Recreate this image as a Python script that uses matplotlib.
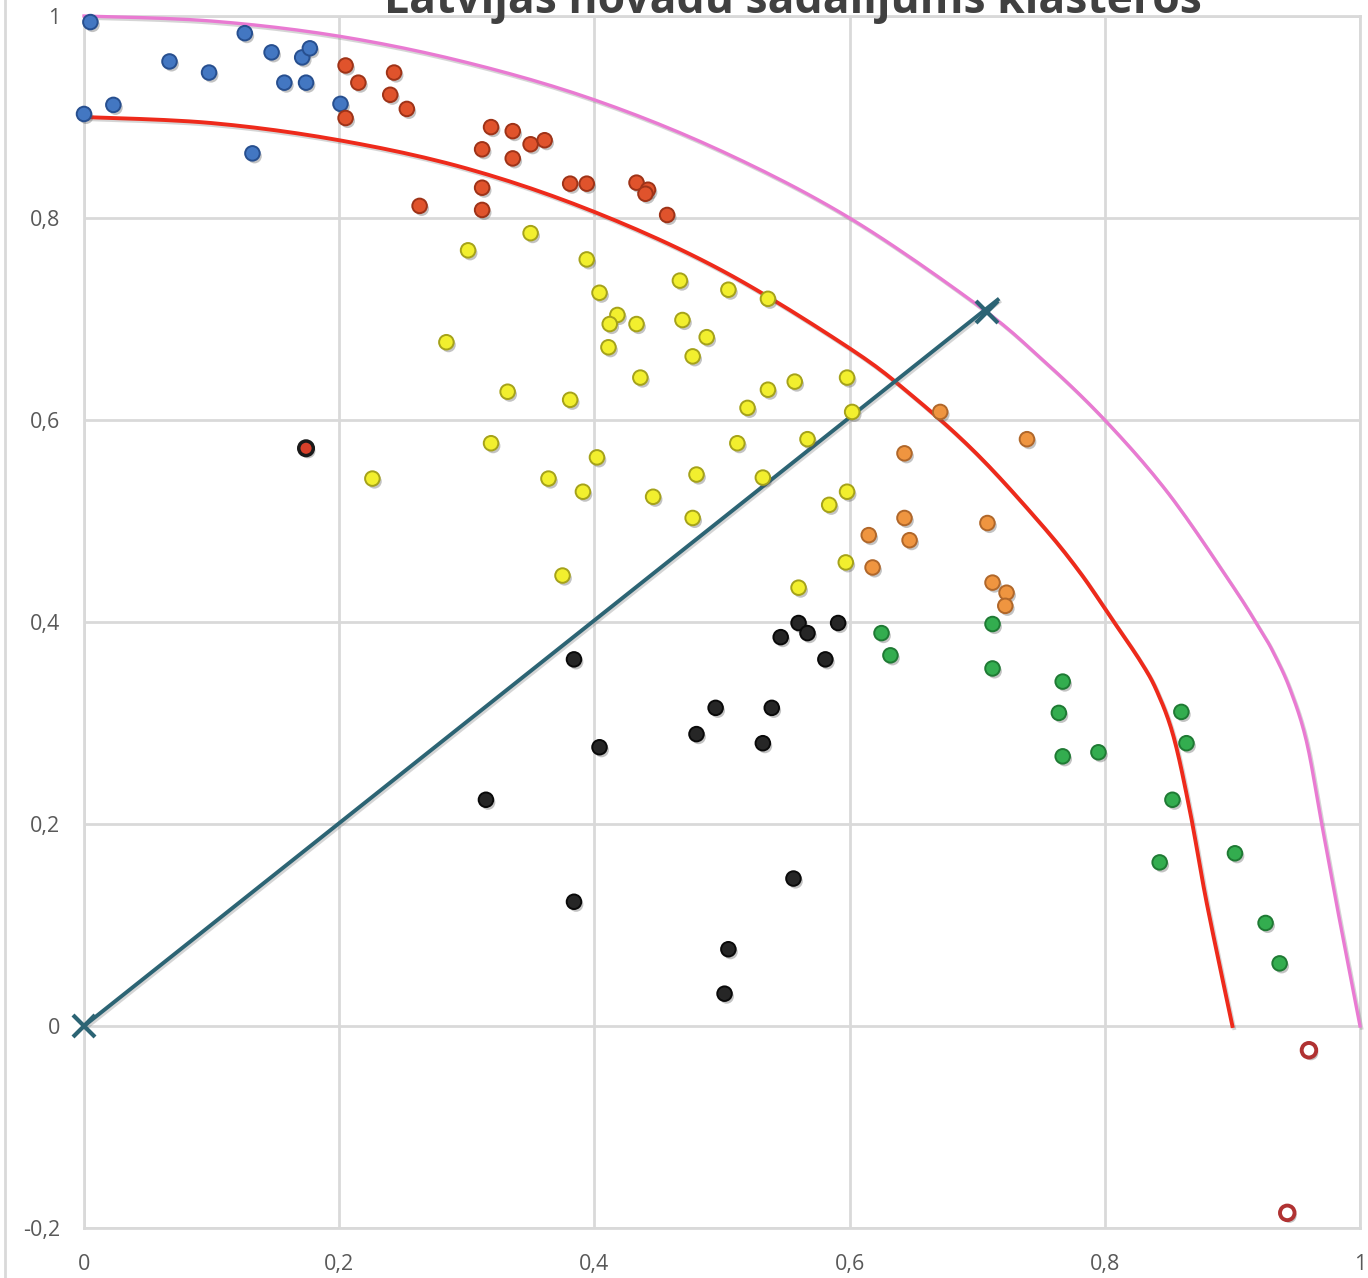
import numpy as np
import matplotlib
matplotlib.use('Agg')
import matplotlib.pyplot as plt
import matplotlib.patheffects as pe
from matplotlib.ticker import FuncFormatter

# cluster points (x, y)
blue_x = [0.005, 0.126, 0.067, 0.098, 0.147, 0.171, 0.177, 0.157, 0.174, 0.0, 0.023, 0.132, 0.201]
blue_y = [0.994, 0.983, 0.955, 0.944, 0.964, 0.959, 0.968, 0.934, 0.934, 0.903, 0.912, 0.864, 0.913]

red_x = [0.205, 0.215, 0.243, 0.240, 0.253, 0.205, 0.319, 0.336, 0.312, 0.350, 0.361,
         0.336, 0.312, 0.263, 0.312, 0.381, 0.394, 0.433, 0.442, 0.440, 0.457]
red_y = [0.951, 0.934, 0.944, 0.922, 0.908, 0.899, 0.890, 0.886, 0.868, 0.873, 0.877,
         0.859, 0.830, 0.812, 0.808, 0.834, 0.834, 0.835, 0.828, 0.824, 0.803]

yellow_x = [0.350, 0.301, 0.394, 0.404, 0.467, 0.505, 0.536, 0.418, 0.412, 0.433, 0.469,
            0.488, 0.411, 0.477, 0.284, 0.436, 0.332, 0.381, 0.520, 0.536, 0.557, 0.598,
            0.602, 0.512, 0.567, 0.319, 0.402, 0.226, 0.364, 0.391, 0.446, 0.480, 0.532,
            0.477, 0.598, 0.584, 0.597, 0.375, 0.560]
yellow_y = [0.785, 0.768, 0.759, 0.726, 0.738, 0.729, 0.720, 0.704, 0.695, 0.695, 0.699,
            0.682, 0.672, 0.663, 0.677, 0.642, 0.628, 0.620, 0.612, 0.630, 0.638, 0.642,
            0.608, 0.577, 0.581, 0.577, 0.563, 0.542, 0.542, 0.529, 0.524, 0.546, 0.543,
            0.503, 0.529, 0.516, 0.459, 0.446, 0.434]

orange_x = [0.671, 0.739, 0.643, 0.643, 0.647, 0.615, 0.618, 0.708, 0.712, 0.723, 0.722]
orange_y = [0.608, 0.581, 0.567, 0.503, 0.481, 0.486, 0.454, 0.498, 0.439, 0.429, 0.416]

black_x = [0.384, 0.404, 0.315, 0.384, 0.560, 0.546, 0.567, 0.591, 0.581, 0.495, 0.539,
           0.480, 0.532, 0.556, 0.505, 0.502]
black_y = [0.363, 0.276, 0.224, 0.123, 0.399, 0.385, 0.389, 0.399, 0.363, 0.315, 0.315,
           0.289, 0.280, 0.146, 0.076, 0.032]

green_x = [0.625, 0.632, 0.712, 0.712, 0.767, 0.764, 0.767, 0.795, 0.860, 0.864, 0.853,
           0.843, 0.902, 0.926, 0.937]
green_y = [0.389, 0.367, 0.398, 0.354, 0.341, 0.310, 0.267, 0.271, 0.311, 0.280, 0.224,
           0.162, 0.171, 0.102, 0.062]

outlier_x = [0.174]
outlier_y = [0.572]

hollow_x = [0.960, 0.943]
hollow_y = [-0.024, -0.185]

# boundary curves
outer_x = [0.0, 0.1, 0.2, 0.3, 0.4, 0.5, 0.6, 0.7, 0.75, 0.8, 0.85, 0.9, 0.922,
           0.932, 0.945, 0.958, 0.970, 0.982, 1.0]
outer_y = [1.0, 0.995, 0.98, 0.954, 0.917, 0.866, 0.80, 0.714, 0.661, 0.60, 0.527, 0.436,
           0.392, 0.370, 0.334, 0.282, 0.200, 0.118, 0.0]

inner_x = [0.0, 0.1, 0.2, 0.3, 0.4, 0.5, 0.6, 0.65, 0.7, 0.75, 0.78, 0.805, 0.828, 0.841,
           0.854, 0.867, 0.880, 0.9]
inner_y = [0.9, 0.894, 0.877, 0.849, 0.806, 0.748, 0.671, 0.623, 0.566, 0.497, 0.450,
           0.404, 0.361, 0.331, 0.286, 0.211, 0.121, 0.0]

diag_x = [0.0, 0.716]
diag_y = [0.0, 0.719]

ticks = [0.0, 0.2, 0.4, 0.6, 0.8, 1.0]
y_ticks = [-0.2, 0.0, 0.2, 0.4, 0.6, 0.8, 1.0]


def _smooth(xs, ys, steps=12):
    # Catmull-Rom, like the spreadsheet "smoothed line" option
    p = np.column_stack([xs, ys]).astype(float)
    p = np.vstack([p[0], p, p[-1]])
    out = []
    for i in range(1, len(p) - 2):
        p0, p1, p2, p3 = p[i - 1], p[i], p[i + 1], p[i + 2]
        for t in np.linspace(0, 1, steps, endpoint=False):
            t2, t3 = t * t, t * t * t
            out.append(0.5 * ((2 * p1) + (-p0 + p2) * t + (2 * p0 - 5 * p1 + 4 * p2 - p3) * t2
                              + (-p0 + 3 * p1 - 3 * p2 + p3) * t3))
    out.append(p[-2])
    out = np.array(out)
    return out[:, 0], out[:, 1]


plt.rcParams['font.family'] = ['Open Sans', 'DejaVu Sans']

fig = plt.figure(figsize=(13.68, 12.78), dpi=100)
ax = fig.add_axes([84 / 1368, 1 - 1228 / 1278, 1276 / 1368, 1212 / 1278])

grid_c = '#d9d9d9'
ax.set_xlim(0, 1)
ax.set_ylim(-0.2, 1)
ax.set_xticks(ticks)
ax.set_yticks(y_ticks)
ax.grid(True, color=grid_c, linewidth=2.0, zorder=0)
ax.set_axisbelow(True)
for s in ax.spines.values():
    s.set_color(grid_c)
    s.set_linewidth(2.0)


def _fmt(v, pos):
    if abs(v - round(v)) < 1e-9:
        return '%d' % round(v)
    return ('%.1f' % v).replace('.', ',')


ax.xaxis.set_major_formatter(FuncFormatter(_fmt))
ax.yaxis.set_major_formatter(FuncFormatter(_fmt))
ax.tick_params(axis='both', length=0, labelsize=15.5, labelcolor='#595959')
ax.tick_params(axis='y', pad=17)
ax.tick_params(axis='x', pad=19)

shadow = [pe.SimplePatchShadow(offset=(1.5, -2.0), shadow_rgbFace='#555555', alpha=0.35), pe.Normal()]
line_shadow = [pe.SimpleLineShadow(offset=(1.2, -1.5), shadow_color='#777777', alpha=0.3), pe.Normal()]

# curves
ox, oy = _smooth(outer_x, outer_y)
ix, iy = _smooth(inner_x, inner_y)
ax.plot(ox, oy, color='#e97ad2', linewidth=2.4, zorder=3, path_effects=line_shadow,
        solid_joinstyle='round', clip_on=False)
ax.plot(ix, iy, color='#ee2a1b', linewidth=2.8, zorder=3, path_effects=line_shadow,
        solid_joinstyle='round', clip_on=False)
ax.plot(diag_x, diag_y, color='#2c6474', linewidth=2.8, zorder=3, path_effects=line_shadow)
ax.plot([0.0, 0.708], [0.0, 0.707], linestyle='none', marker='x', markersize=16,
        markeredgewidth=3, color='#2c6474', zorder=6, clip_on=False)

ms = 110
groups = [
    (blue_x, blue_y, '#4377c2', '#274f8f'),
    (red_x, red_y, '#e0532c', '#9e3318'),
    (yellow_x, yellow_y, '#f2ef2e', '#a5a21a'),
    (orange_x, orange_y, '#ef9540', '#b0672a'),
    (black_x, black_y, '#262626', '#0a0a0a'),
    (green_x, green_y, '#33ad4f', '#1f7a34'),
]
for gx, gy, fc, ec in groups:
    ax.scatter(gx, gy, s=ms, c=fc, edgecolors=ec, linewidths=1.4, zorder=5,
               path_effects=shadow, clip_on=False)

ax.scatter(outlier_x, outlier_y, s=ms, c='#d8402a', edgecolors='#1a1a1a', linewidths=2.5,
           zorder=5, path_effects=shadow)
ax.scatter(hollow_x, hollow_y, s=ms, c='white', edgecolors='#b03232', linewidths=2.8,
           zorder=5, path_effects=shadow)

# chart border on the far left
fig.add_artist(plt.Line2D([5 / 1368, 5 / 1368], [0, 1], transform=fig.transFigure,
                          color=grid_c, linewidth=2.0))

fig.text(793 / 1368, 1 - 13 / 1278, 'Latvijas novadu sadalījums klasteros', ha='center',
         va='baseline', fontsize=32, fontweight='bold', color='#404040')

fig.savefig('out.png', dpi=100)
